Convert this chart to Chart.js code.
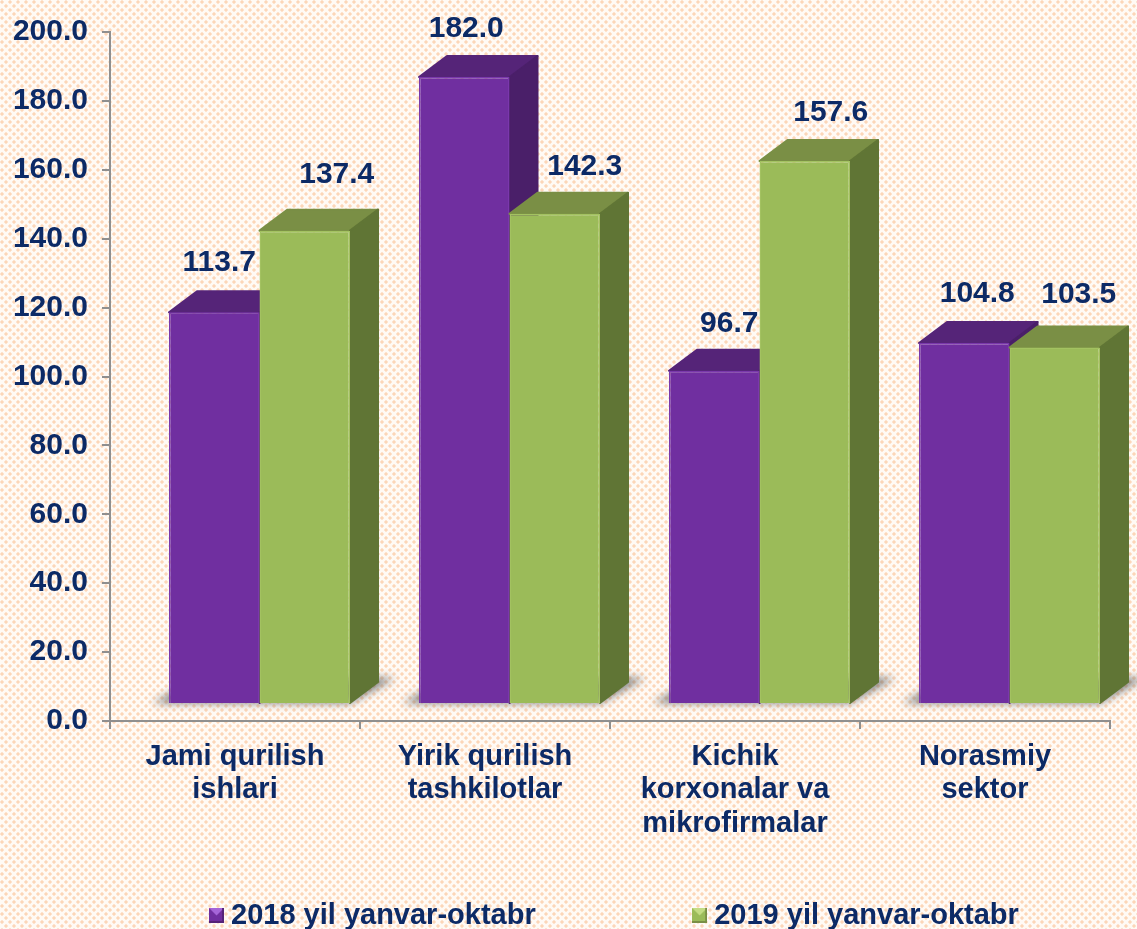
<!DOCTYPE html>
<html>
<head>
<meta charset="utf-8">
<title>Qurilish ishlari</title>
<script src="https://cdn.jsdelivr.net/npm/chart.js@4"></script>
<style>
  html, body { margin: 0; padding: 0; width: 1137px; height: 929px; overflow: hidden; background: #fffaf5; }
  body {
    background-image: radial-gradient(circle at 2px 2px, #fcd6b8 1.3px, transparent 2px),
                      radial-gradient(circle at 6px 6px, #fcd6b8 1.3px, transparent 2px);
    background-size: 8px 8px;
  }
  #wrap { width: 1137px; height: 929px; }
</style>
</head>
<body>
<div id="wrap"><canvas id="chart" width="1137" height="929"></canvas></div>
<script>
const categories = [['Jami qurilish', 'ishlari'], ['Yirik qurilish', 'tashkilotlar'], ['Kichik', 'korxonalar va', 'mikrofirmalar'], ['Norasmiy', 'sektor']];
const seriesNames = ['2018 yil yanvar-oktabr', '2019 yil yanvar-oktabr'];
const values2018 = [113.7, 182.0, 96.7, 104.8];
const values2019 = [137.4, 142.3, 157.6, 103.5];

const NAVY = '#0c2a66';
const AXIS = '#8f8f8f';
const FAMILY = '"Liberation Sans", Arial, sans-serif';
const TEXT_FONT = { family: FAMILY, size: 29, weight: 'bold', lineHeight: 1.16 };
const NUM_FONT = { family: FAMILY, size: 30, weight: 'bold' };
const LEGEND_GAP = 164;

// the front faces sit off the axis like in a 3D column chart
const SHIFT_X = 24.5, SHIFT_Y = -17;
const DEPTH_X = 28, DEPTH_Y = 21;

const faceColors = [
    { front: '#702fa0', top: '#552478', side: '#4a1f69', edge: '#7a38ac', light: '#a565d8' },
    { front: '#9bbb59', top: '#7a8f45', side: '#607535', edge: '#a3c261', light: '#c4dc84' }
];

// label nudges from the bar centre, [dx, dy above the bar top]
const labelNudge = [
    [[5, 50], [2, 48], [15, 47], [13, 49]],
    [[32, 56], [30, 47], [26, 48], [24, 53]]
];

// small bevelled legend marker
function legendMarker(colors) {
    const c = document.createElement('canvas');
    c.width = 15; c.height = 15;
    const g = c.getContext('2d');
    g.fillStyle = colors.front;
    g.fillRect(0, 0, 15, 15);
    g.fillStyle = colors.light;
    g.beginPath(); g.moveTo(0, 0); g.lineTo(15, 0); g.lineTo(7.5, 7.5); g.closePath(); g.fill();
    g.fillStyle = colors.top;
    g.fillRect(0, 13, 15, 2);
    g.fillRect(13, 0, 2, 15);
    return c;
}

function polygon(ctx, pts, fill) {
    ctx.fillStyle = fill;
    ctx.strokeStyle = fill;
    ctx.lineWidth = 2;
    ctx.lineJoin = 'round';
    ctx.beginPath();
    pts.forEach(([x, y], i) => i ? ctx.lineTo(x, y) : ctx.moveTo(x, y));
    ctx.closePath();
    ctx.fill();
    ctx.stroke();
}

// top and side faces, then the library's own bar as the front face
function paintColumns(chart, index) {
    const { ctx } = chart;
    const meta = chart.getDatasetMeta(index);
    const colors = faceColors[index];
    ctx.save();
    ctx.translate(SHIFT_X, SHIFT_Y);
    meta.data.forEach(bar => {
        const l = bar.x - bar.width / 2, r = bar.x + bar.width / 2;
        polygon(ctx, [[l, bar.y], [l + DEPTH_X, bar.y - DEPTH_Y], [r + DEPTH_X, bar.y - DEPTH_Y], [r, bar.y]], colors.top);
        polygon(ctx, [[r, bar.y], [r + DEPTH_X, bar.y - DEPTH_Y], [r + DEPTH_X, bar.base - DEPTH_Y], [r, bar.base]], colors.side);
    });
    meta.controller.draw();
    ctx.restore();
}

const bar3d = {
    id: 'bar3d',
    afterLayout(chart) {
        // wide item gap would wrap the legend, so refit it wider and place it by hand
        const legend = chart.legend;
        legend.maxWidth = 1400;
        legend.fit();
        legend.left = 216.5 - LEGEND_GAP;
        legend.right = 1400;
        legend.top = 901 - LEGEND_GAP;
        legend.bottom = 929;
    },
    beforeDatasetsDraw(chart) {
        // floor shadow under each group
        const { ctx } = chart;
        const first = chart.getDatasetMeta(0).data;
        const second = chart.getDatasetMeta(1).data;
        ctx.save();
        ctx.translate(SHIFT_X, SHIFT_Y);
        ctx.filter = 'blur(4px)';
        ctx.fillStyle = 'rgba(95,95,95,0.8)';
        first.forEach((bar, i) => {
            const left = bar.x - bar.width / 2;
            const right = second[i].x + second[i].width / 2;
            ctx.beginPath();
            ctx.moveTo(left - 16, bar.base);
            ctx.lineTo(right, bar.base);
            ctx.lineTo(right + 45, bar.base - 25);
            ctx.lineTo(left + 30, bar.base - 25);
            ctx.closePath();
            ctx.fill();
        });
        ctx.restore();
        // purple first so the green columns cover its sides
        paintColumns(chart, 0);
        paintColumns(chart, 1);
    },
    beforeDatasetDraw() {
        return false;
    },
    afterDatasetsDraw(chart) {
        const { ctx } = chart;
        ctx.save();
        ctx.font = `bold ${NUM_FONT.size}px ${FAMILY}`;
        ctx.fillStyle = NAVY;
        ctx.textAlign = 'center';
        ctx.textBaseline = 'middle';
        chart.data.datasets.forEach((ds, d) => {
            chart.getDatasetMeta(d).data.forEach((bar, i) => {
                const [dx, dy] = labelNudge[d][i];
                ctx.fillText(ds.data[i].toFixed(1), bar.x + SHIFT_X + dx, bar.y + SHIFT_Y - dy);
            });
        });
        ctx.restore();
    }
};

new Chart(document.getElementById('chart'), {
    type: 'bar',
    plugins: [bar3d],
    data: {
        labels: categories,
        datasets: [
            { label: seriesNames[0], data: values2018, backgroundColor: faceColors[0].front, borderColor: faceColors[0].edge, borderWidth: 1.5 },
            { label: seriesNames[1], data: values2019, backgroundColor: faceColors[1].front, borderColor: faceColors[1].edge, borderWidth: 1.5 }
        ]
    },
    options: {
        responsive: false,
        animation: false,
        layout: { padding: { left: 0, right: 27, top: 29, bottom: 38 } },
        datasets: { bar: { barPercentage: 1, categoryPercentage: 0.724 } },
        plugins: {
            tooltip: { enabled: false },
            legend: {
                position: 'bottom',
                align: 'start',
                maxHeight: 30,
                labels: {
                    color: NAVY, font: TEXT_FONT, boxWidth: 15, boxHeight: 15, padding: LEGEND_GAP,
                    usePointStyle: true, pointStyleWidth: 0.01,
                    generateLabels: chart => seriesNames.map((text, i) => ({
                        text, datasetIndex: i, fontColor: NAVY, pointStyle: legendMarker(faceColors[i]), lineWidth: 0
                    }))
                }
            }
        },
        scales: {
            x: {
                afterFit(scale) { scale.height = 140; },
                grid: { display: true, drawOnChartArea: false, color: AXIS, lineWidth: 2, tickLength: 8 },
                border: { color: AXIS, width: 2 },
                ticks: { color: NAVY, font: TEXT_FONT, maxRotation: 0, autoSkip: false, padding: 11 }
            },
            y: {
                min: 0, max: 200,
                afterFit(scale) { scale.width = 110; },
                grid: { display: true, drawOnChartArea: false, color: AXIS, lineWidth: 2, tickLength: 8 },
                border: { color: AXIS, width: 2 },
                ticks: { color: NAVY, font: NUM_FONT, stepSize: 20, padding: 14, callback: v => v.toFixed(1) }
            }
        }
    }
});
</script>
</body>
</html>
